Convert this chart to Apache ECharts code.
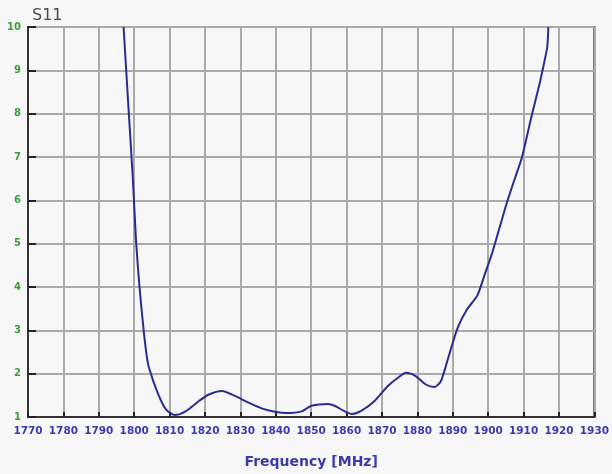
<!DOCTYPE html>
<html><head><meta charset="utf-8">
<script src="https://cdn.jsdelivr.net/npm/echarts@6/dist/echarts.min.js"></script>
<style>html,body{margin:0;padding:0;background:#f7f7f7}#c{width:612px;height:474px}</style>
</head><body><div id="c"></div>
<script>
const title = 'S11';
const xAxisName = 'Frequency [MHz]';
const freqMHz = [1797.0,1798.3,1799.6,1800.5,1801.2,1801.9,1802.7,1803.5,1804.2,1806.6,1808.9,1811.5,1814.5,1818.3,1821.1,1824.8,1828.6,1832.3,1836.0,1839.8,1843.1,1847.3,1850.1,1854.8,1856.6,1859.5,1861.5,1864.1,1867.9,1871.6,1874.4,1876.8,1879.6,1882.4,1884.7,1886.6,1888.7,1891.3,1894.1,1896.9,1899.2,1901.1,1903.0,1905.3,1907.6,1909.5,1912.3,1914.6,1916.1,1916.7,1917.0];
const s11 = [10.0,8.25,6.52,5.1,4.3,3.64,2.98,2.43,2.13,1.56,1.18,1.045,1.13,1.37,1.52,1.60,1.48,1.33,1.20,1.12,1.09,1.13,1.26,1.30,1.26,1.13,1.07,1.14,1.37,1.71,1.90,2.02,1.94,1.75,1.69,1.82,2.36,3.04,3.49,3.80,4.33,4.78,5.31,5.95,6.52,6.98,7.96,8.72,9.29,9.55,10.0];
const xMin = 1770, xMax = 1930, xStep = 10;
const yMin = 1, yMax = 10, yStep = 1;

const chart = echarts.init(document.getElementById('c'));
chart.setOption({
  backgroundColor: '#f7f7f7',
  animation: false,
  title: { text: title, left: 27, top: 3, textStyle: { fontFamily: 'DejaVu Sans', fontSize: 16, fontWeight: 'normal', color: '#4a4a4a' } },
  grid: { left: 28, top: 27, right: 14, bottom: 51, show: true, borderColor: '#333', borderWidth: 2, backgroundColor: 'transparent' },
  xAxis: {
    type: 'value', min: xMin, max: xMax, interval: xStep,
    name: xAxisName, nameLocation: 'middle', nameGap: 38,
    nameTextStyle: { fontFamily: 'DejaVu Sans', fontSize: 14, fontWeight: 'bold', color: '#3a3aa8' },
    axisLine: { show: true, lineStyle: { color: '#333', width: 2 } },
    axisTick: { show: true, inside: true, length: 5, lineStyle: { color: '#222', width: 2 } },
    axisLabel: { margin: 9, fontFamily: 'DejaVu Sans', fontSize: 10.5, fontWeight: 'bold', color: '#3a3ab0', formatter: v => String(v) },
    splitLine: { show: true, lineStyle: { color: '#aaaaaa', width: 2 } }
  },
  yAxis: {
    type: 'value', min: yMin, max: yMax, interval: yStep,
    axisLine: { show: true, lineStyle: { color: '#333', width: 2 } },
    axisTick: { show: true, inside: true, length: 8, lineStyle: { color: '#222', width: 2 } },
    axisLabel: { margin: 7, fontFamily: 'DejaVu Sans', fontSize: 10, fontWeight: 'bold', color: '#3c9c3c' },
    splitLine: { show: true, lineStyle: { color: '#aaaaaa', width: 2 } }
  },
  series: [{
    type: 'line', data: freqMHz.map((f, i) => [f, s11[i]]),
    smooth: 0.25, showSymbol: false, clip: true,
    lineStyle: { color: '#2b2b90', width: 2 }
  }]
});
</script></body></html>
